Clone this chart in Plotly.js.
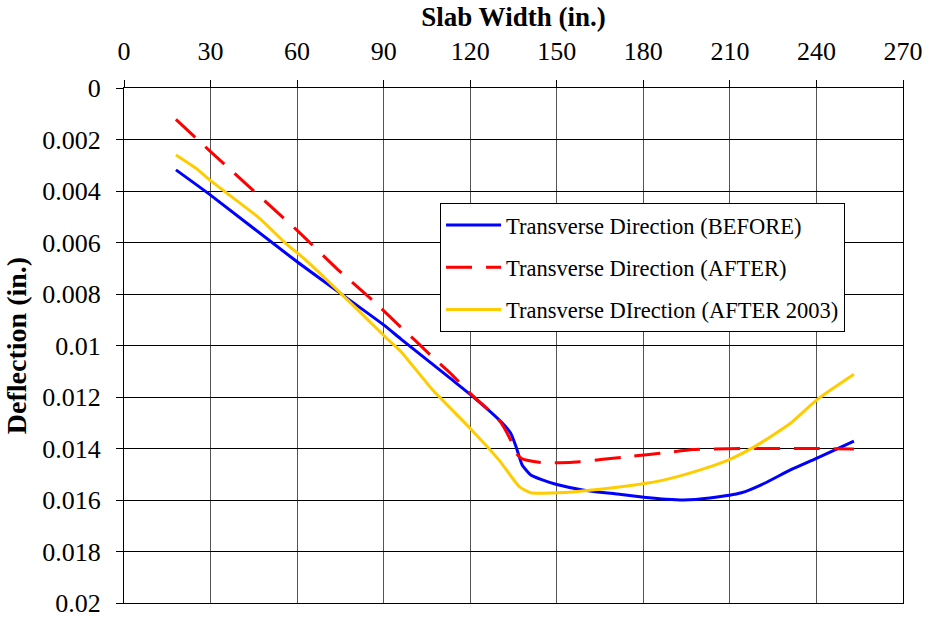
<!DOCTYPE html>
<html>
<head>
<meta charset="utf-8">
<script src="https://cdn.plot.ly/plotly-3.0.1.min.js"></script>
<style>
html,body{margin:0;padding:0;background:#fff;}
#chart{width:927px;height:617px;}
</style>
</head>
<body>
<div id="chart"></div>
<script>
// Transverse Direction (BEFORE)
const beforeX = [18, 30, 60, 90, 96, 113, 120, 130, 134, 136, 138, 141, 145, 150, 159, 171, 181, 188, 194, 203, 214, 222, 231, 240, 253];
const beforeY = [0.00318, 0.00416, 0.00675, 0.00920, 0.00975, 0.01127, 0.01190, 0.01289, 0.01340, 0.01397, 0.01464, 0.01503, 0.01522, 0.01540, 0.01561, 0.01577, 0.01590, 0.01597, 0.01600, 0.01592, 0.01572, 0.01535, 0.01483, 0.01438, 0.01371];

// Transverse Direction (AFTER)
const afterX = [18, 30, 60, 74, 86, 97, 101, 108, 113, 120, 130, 134, 136, 138, 145, 151, 158, 166, 173, 182, 188, 197, 204, 214, 230, 240, 253];
const afterY = [0.00122, 0.00247, 0.00553, 0.00704, 0.00823, 0.00940, 0.00981, 0.01056, 0.01106, 0.01186, 0.01290, 0.01367, 0.01420, 0.01440, 0.01455, 0.01455, 0.01451, 0.01442, 0.01434, 0.01423, 0.01416, 0.01404, 0.01402, 0.01400, 0.01400, 0.01400, 0.01402];

// Transverse DIrection (AFTER 2003)
const after2003X = [18, 25, 30, 47, 56, 63, 80, 91, 96, 107, 120, 130, 137, 141, 150, 165, 181, 188, 200, 210, 219, 231, 240, 253];
const after2003Y = [0.00260, 0.00312, 0.00360, 0.00506, 0.00603, 0.00668, 0.00850, 0.00972, 0.01024, 0.01173, 0.01322, 0.01445, 0.01548, 0.01572, 0.01572, 0.01558, 0.01535, 0.01520, 0.01482, 0.01442, 0.01390, 0.01302, 0.01212, 0.01112];

const seriesNames = ['Transverse Direction (BEFORE)', 'Transverse Direction (AFTER)', 'Transverse DIrection (AFTER 2003)'];

const xTicks = [0, 30, 60, 90, 120, 150, 180, 210, 240, 270];
const yTicks = [0, 0.002, 0.004, 0.006, 0.008, 0.01, 0.012, 0.014, 0.016, 0.018, 0.02];
const yTickText = ['0', '0.002', '0.004', '0.006', '0.008', '0.01', '0.012', '0.014', '0.016', '0.018', '0.02'];

const FONT = 'Liberation Serif, Times New Roman, Times, serif';

const traces = [
  {x: beforeX, y: beforeY, name: seriesNames[0], mode: 'lines', legendgroup: 'a',
   line: {color: '#0000FF', width: 3, shape: 'spline', smoothing: 0.5}},
  {x: afterX, y: afterY, name: seriesNames[1], mode: 'lines', legendgroup: 'b',
   line: {color: '#FF0000', width: 3, dash: '26px,14px', shape: 'spline', smoothing: 0.5}},
  {x: after2003X, y: after2003Y, name: seriesNames[2], mode: 'lines', legendgroup: 'c',
   line: {color: '#FFCC00', width: 3, shape: 'spline', smoothing: 0.5}}
];

const layout = {
  width: 927, height: 617,
  margin: {l: 124, r: 24, t: 88, b: 14},
  paper_bgcolor: '#fff', plot_bgcolor: '#fff',
  font: {family: FONT, color: '#000', size: 24},
  showlegend: true,
  legend: {
    x: 0.4057, y: 0.7767, xanchor: 'left', yanchor: 'top',
    bgcolor: '#fff', bordercolor: '#000', borderwidth: 1,
    font: {family: FONT, size: 22.5, color: '#000'},
    tracegroupgap: 10, traceorder: 'grouped', itemwidth: 55
  },
  xaxis: {
    side: 'top', range: [0, 270], tickvals: xTicks, ticktext: xTicks.map(String),
    showgrid: true, gridcolor: '#555', gridwidth: 1,
    showline: true, linecolor: '#000', linewidth: 1, mirror: true,
    ticks: 'outside', ticklen: 7, tickcolor: '#000', ticklabelstandoff: 10,
    ticklabeloverflow: 'allow',
    zeroline: false,
    tickfont: {family: FONT, size: 26},
    title: {text: '<b>Slab Width (in.)</b>', font: {family: FONT, size: 27}, standoff: 2}
  },
  yaxis: {
    range: [0.02, 0], tickvals: yTicks, ticktext: yTickText,
    showgrid: true, gridcolor: '#000', gridwidth: 1,
    showline: true, linecolor: '#000', linewidth: 1, mirror: true,
    ticks: 'outside', ticklen: 7, tickcolor: '#000', ticklabelstandoff: 10,
    ticklabeloverflow: 'allow',
    zeroline: false,
    tickfont: {family: FONT, size: 26},
    title: {text: '<b>Deflection (in.)</b>', font: {family: FONT, size: 28}, standoff: 7}
  }
};

Plotly.newPlot('chart', traces, layout, {displayModeBar: false, staticPlot: true});
</script>
</body>
</html>
